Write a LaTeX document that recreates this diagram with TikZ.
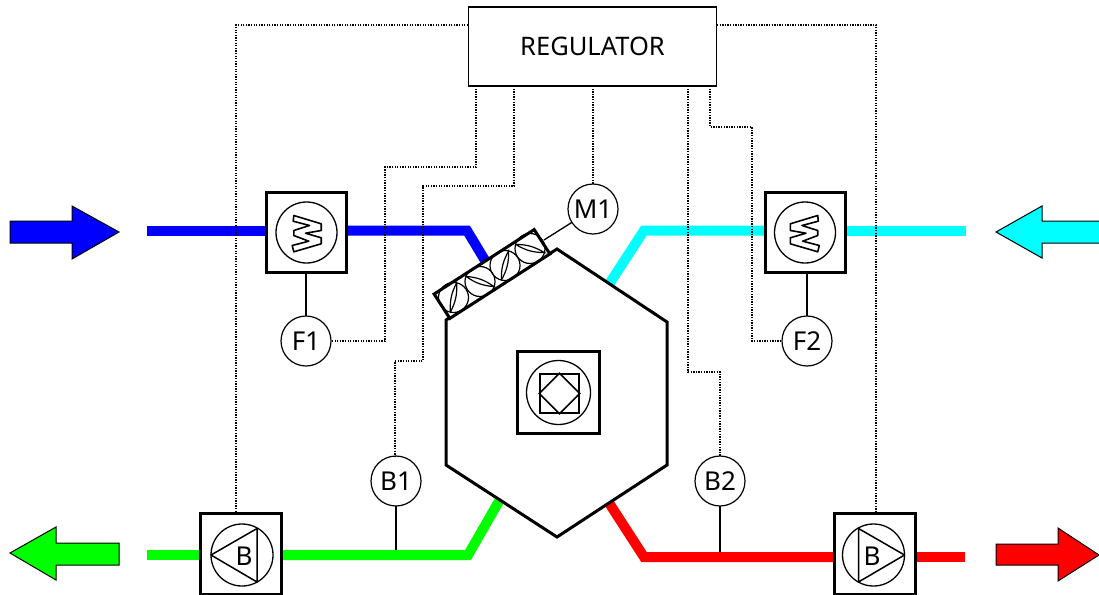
\documentclass[tikz,border=0pt]{standalone}
\usepackage{fontspec}
\setmainfont{Noto Sans}
\usetikzlibrary{positioning}

\definecolor{ductblue}{RGB}{0,0,255}
\definecolor{ductcyan}{RGB}{0,255,255}
\definecolor{ductgreen}{RGB}{0,255,0}
\definecolor{ductred}{RGB}{255,0,0}

\tikzset{
  unitbox/.style={draw, rectangle, fill=white, line width=3pt, minimum size=80pt, inner sep=0pt, outer sep=0pt},
  rotor/.style={draw, circle, line width=1.3pt, minimum size=61pt, inner sep=0pt, outer sep=0pt},
  sensor/.style={draw, circle, fill=white, line width=1.2pt, minimum size=50pt, inner sep=0pt, outer sep=0pt, font=\fontsize{26}{30}\selectfont},
  flapring/.style={draw, circle, line width=1.2pt, minimum size=30pt, inner sep=0pt},
  pipe/.style={line width=10pt, line join=miter},
  signal/.style={dash pattern=on 1.3pt off 1.3pt, line width=1.2pt},
  wire/.style={line width=1.3pt},
  flow/.style={draw=black, line width=1pt, line join=miter},
  fanblade/.pic={
    \draw[line width=1.6pt, line join=round] (-12.7,-17) -- (14.7,-8.7) -- (14.7,-2) -- (-1,0.7) -- (14.7,5.3) -- (14.7,11.3) -- (-12.7,19.3) -- (-14.3,13) -- (2.3,8.7) -- (-12.7,3) -- (-12.7,-2) -- (3,-7) -- (-13.3,-11.3) -- cycle;
  },
  pumpblade/.pic={
    \draw[line width=1.5pt, line join=round] (-31,0) -- (15,-26.5) -- (15,27) -- cycle;
  },
  flap/.pic={
    \draw[line width=1.2pt] (-15,0) to[bend left=15] (15,0) to[bend left=15] (-15,0);
  }
}

\begin{document}
\begin{tikzpicture}[x=1pt, y=-1pt]
    \useasboundingbox (0,0) rectangle (1099,594);

    \node[draw, rectangle, line width=1.1pt, minimum width=248pt, minimum height=79pt, outer sep=0pt, font=\fontsize{25.5}{30}\selectfont] (reg) at (592.5,46.5) {REGULATOR};

    \node[unitbox] (fan1) at (306,232) {};
    \node[unitbox] (fan2) at (805,232) {};
    \node[unitbox, minimum size=81pt] (pump1) at (241,554) {};
    \node[unitbox, minimum size=81pt] (pump2) at (875,554) {};

    \node[sensor] (f1) [below=44pt of fan1] {F1};
    \node[sensor] (f2) at (807,341) {F2};
    \node[sensor] (m1) at (593,209) {M1};
    \node[sensor] (b1) at (396,481) {B1};
    \node[sensor] (b2) at (720,481) {B2};

    % air ducts
    \coordinate (blueend) at (147,230.5);
    \coordinate (bluebend) at (467,230.5);
    \coordinate (bluein) at (492,272);
    \coordinate (cyanend) at (966,230.5);
    \coordinate (cyanbend) at (644,230.5);
    \coordinate (cyanin) at (600,298);
    \coordinate (greenend) at (147,555);
    \coordinate (greenbend) at (468,555);
    \coordinate (greenin) at (510,482);
    \coordinate (redend) at (965,557);
    \coordinate (redbend) at (644,557);
    \coordinate (redin) at (600,489);
    \coordinate (b1tap) at (396,550);
    \coordinate (b2tap) at (720,552);

    \draw[pipe, color=ductblue] (blueend) -- (blueend -| fan1.west);
    \draw[pipe, color=ductblue] (bluebend -| fan1.east) -- (bluebend) -- (bluein);
    \draw[pipe, color=ductcyan] (cyanend) -- (cyanend -| fan2.east);
    \draw[pipe, color=ductcyan] (cyanbend -| fan2.west) -- (cyanbend) -- (cyanin);
    \draw[pipe, color=ductgreen] (greenend) -- (greenend -| pump1.west);
    \draw[pipe, color=ductgreen] (greenbend -| pump1.east) -- (greenbend) -- (greenin);
    \draw[pipe, color=ductred] (redend) -- (redend -| pump2.east);
    \draw[pipe, color=ductred] (redbend -| pump2.west) -- (redbend) -- (redin);

    \node[unitbox] at (fan1) {};
    \node[unitbox] at (fan2) {};
    \node[unitbox, minimum size=81pt] at (pump1) {};
    \node[unitbox, minimum size=81pt] at (pump2) {};

    % heat exchanger
    \draw[fill=white, line width=3pt, line join=miter] (557,249) -- (667,322) -- (667,465) -- (557,537) -- (446,465) -- (446,320) -- cycle;

    \node[draw, rectangle, fill=white, line width=3pt, minimum size=82pt, inner sep=0pt, outer sep=0pt] (core) at (558.5,392.5) {};
    \node[rotor, minimum size=64pt] (corering) at (core) {};
    \node[draw, rectangle, line width=1.5pt, minimum size=39pt, inner sep=0pt] (coresq) at (559.5,393.5) {};
    \draw[line width=1.5pt] (coresq.north) -- (coresq.east) -- (coresq.south) -- (coresq.west) -- cycle;

    % damper
    \node[draw, rectangle, fill=white, rotate=32.8, line width=3pt, minimum width=119pt, minimum height=29pt, inner sep=0pt, outer sep=0pt] (damper) at (492,274) {};
    \node[flapring] (d1) at (453.5,297.5) {};
    \node[flapring] (d2) at (480,281.5) {};
    \node[flapring] (d3) at (505,265.5) {};
    \node[flapring] (d4) at (530,248.5) {};
    \pic[rotate=78] at (d1) {flap};
    \pic[rotate=-20] at (d2) {flap};
    \pic[rotate=76] at (d3) {flap};
    \pic[rotate=-16] at (d4) {flap};
    \coordinate (damperedge) at (544,240);

    % fans and pumps
    \node[rotor] (ring1) at (306.5,232.5) {};
    \node[rotor] (ring2) at (805,232.5) {};
    \pic at (ring1) {fanblade};
    \pic[xscale=-1] at (ring2) {fanblade};

    \node[rotor, minimum size=62pt] (ring3) at (242,555) {};
    \node[rotor, minimum size=62pt] (ring4) at (873.5,555) {};
    \pic at (ring3) {pumpblade};
    \pic[xscale=-1] at (ring4) {pumpblade};
    \node[font=\fontsize{26}{30}\selectfont, inner sep=0pt] (bl) at (244,556) {B};
    \node[font=\fontsize{26}{30}\selectfont, inner sep=0pt] (br) at (872,556) {B};

    % sensor wires
    \draw[wire] (f1) -- (fan1);
    \draw[wire] (f2) -- (f2 |- fan2.south);
    \draw[wire] (b1) -- (b1tap);
    \draw[wire] (b2) -- (b2tap);
    \draw[wire] (m1) -- (damperedge);

    % control lines
    \coordinate (r1) at (476,86);
    \coordinate (r2) at (514,86);
    \coordinate (r3) at (688,86);
    \coordinate (r4) at (710,86);
    \coordinate (r5) at (468,25);
    \coordinate (r6) at (717,25);

    \draw[signal] (r5) -| (236,513);
    \draw[signal] (r6) -| (876,513);
    \draw[signal] (r1) -- (476,167) -- (385,167) -- (385,341) -- (f1);
    \draw[signal] (r2) -- (514,186) -- (423,186) -- (423,361) -- (395,361) -- (b1.north -| 395,0);
    \draw[signal] (reg.south -| m1) -- (m1);
    \draw[signal] (r3) -- (688,372) -- (720,372) -- (b2);
    \draw[signal] (r4) -- (710,127) -- (752,127) -- (752,341) -- (f2);

    % flow arrows
    \draw[flow, fill=ductblue] (10,221) -- (72,221) -- (72,206) -- (119,232) -- (72,259) -- (72,243) -- (10,243) -- cycle;
    \draw[flow, fill=ductcyan] (1099,221) -- (1042,221) -- (1042,206) -- (996,232) -- (1042,258) -- (1042,243) -- (1099,243);
    \draw[flow, fill=ductgreen] (119,543) -- (56,543) -- (56,527) -- (10,553) -- (56,580) -- (56,565) -- (119,565) -- cycle;
    \draw[flow, fill=ductred] (996,544) -- (1058,544) -- (1058,528) -- (1099,555) -- (1058,581) -- (1058,565) -- (996,565) -- cycle;
\end{tikzpicture}
\end{document}
